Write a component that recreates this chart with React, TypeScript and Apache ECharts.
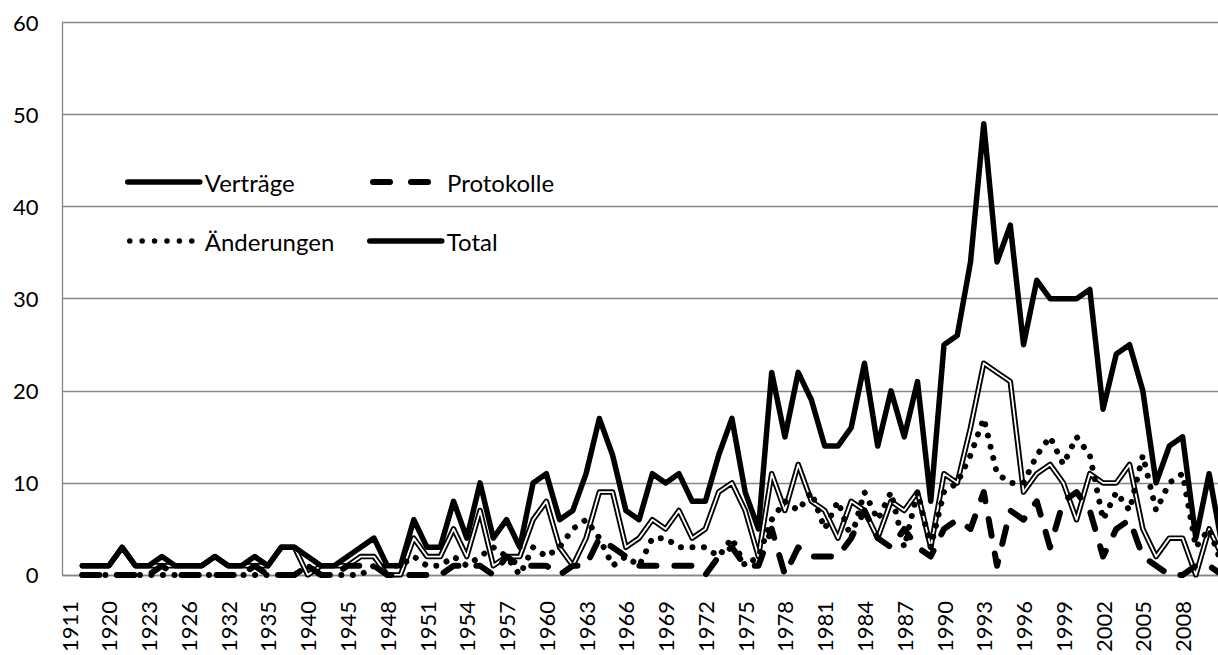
import React, { useEffect, useRef } from "react";
import * as echarts from "echarts";

// Category labels (every third one is displayed on the axis)
const years: string[] = [
  "1911", "1914", "1919", "1920", "1921", "1922", "1923", "1924", "1925", "1926",
  "1928", "1930", "1932", "1933", "1934", "1935", "1937", "1938", "1940", "1942",
  "1944", "1945", "1946", "1947", "1948", "1949", "1950", "1951", "1952", "1953",
  "1954", "1955", "1956", "1957", "1958", "1959", "1960", "1961", "1962", "1963",
  "1964", "1965", "1966", "1967", "1968", "1969", "1970", "1971", "1972", "1973",
  "1974", "1975", "1976", "1977", "1978", "1979", "1980", "1981", "1982", "1983",
  "1984", "1985", "1986", "1987", "1988", "1989", "1990", "1991", "1992", "1993",
  "1994", "1995", "1996", "1997", "1998", "1999", "2000", "2001", "2002", "2003",
  "2004", "2005", "2006", "2007", "2008", "2009", "2010", "2011",
];

const vertraege: (number | null)[] = [
  null, 1, 1, 1, 3, 1, 1, 1, 1, 1,
  1, 2, 1, 1, 1, 1, 3, 3, 0, 1,
  1, 1, 2, 2, 0, 0, 4, 2, 2, 5,
  2, 7, 1, 2, 2, 6, 8, 3, 1, 4,
  9, 9, 3, 4, 6, 5, 7, 4, 5, 9,
  10, 7, 2, 11, 7, 12, 8, 7, 4, 8,
  7, 4, 8, 7, 9, 3, 11, 10, 16, 23,
  22, 21, 9, 11, 12, 10, 6, 11, 10, 10,
  12, 5, 2, 4, 4, 0, 5, 2,
];

const protokolle: (number | null)[] = [
  null, 0, 0, 0, 0, 0, 0, 1, 0, 0,
  0, 0, 0, 0, 1, 0, 0, 0, 1, 0,
  0, 1, 1, 1, 0, 0, 0, 0, 0, 1,
  1, 1, 0, 2, 1, 1, 1, 0, 1, 1,
  4, 3, 2, 1, 1, 1, 1, 1, 0, 2,
  3, 1, 1, 5, 0, 3, 2, 2, 2, 4,
  7, 4, 3, 5, 3, 2, 5, 6, 5, 9,
  1, 7, 6, 8, 3, 8, 9, 7, 2, 5,
  6, 2, 1, 0, 0, 1, 1, 0,
];

const aenderungen: (number | null)[] = [
  null, 0, 0, 0, 0, 0, 0, 0, 0, 0,
  0, 0, 0, 0, 0, 0, 0, 0, 1, 0,
  0, 0, 0, 1, 1, 1, 2, 1, 1, 2,
  1, 2, 3, 2, 0, 3, 2, 3, 5, 6,
  4, 1, 2, 1, 4, 4, 3, 3, 3, 2,
  4, 1, 2, 6, 8, 7, 9, 5, 8, 4,
  9, 6, 9, 3, 9, 3, 9, 10, 13, 17,
  11, 10, 10, 13, 15, 12, 15, 13, 6, 9,
  7, 13, 7, 10, 11, 3, 5, 1,
];

const total: (number | null)[] = [
  null, 1, 1, 1, 3, 1, 1, 2, 1, 1,
  1, 2, 1, 1, 2, 1, 3, 3, 2, 1,
  1, 2, 3, 4, 1, 1, 6, 3, 3, 8,
  4, 10, 4, 6, 3, 10, 11, 6, 7, 11,
  17, 13, 7, 6, 11, 10, 11, 8, 8, 13,
  17, 9, 5, 22, 15, 22, 19, 14, 14, 16,
  23, 14, 20, 15, 21, 8, 25, 26, 34, 49,
  34, 38, 25, 32, 30, 30, 30, 31, 18, 24,
  25, 20, 10, 14, 15, 4, 11, 3,
];

const yTicks = { min: 0, max: 60, interval: 10 };
const lastShownLabel = "2008";

export default function App() {
  const ref = useRef<HTMLDivElement>(null);

  useEffect(() => {
    if (!ref.current) return;
    const chart = echarts.init(ref.current, null, { renderer: "svg" });
    const font = 'Lato, "Noto Sans", sans-serif';
    const gray = "#868686";
    const lastIdx = years.indexOf(lastShownLabel);
    const legendBase = {
      orient: "horizontal",
      itemWidth: 72,
      itemHeight: 20,
      padding: 0,
      selectedMode: false,
      itemStyle: { opacity: 0 },
      textStyle: { fontFamily: font, fontSize: 24, color: "#000" },
    };
    chart.setOption({
      animation: false,
      backgroundColor: "#fff",
      grid: { left: 62.5, right: 0, top: 22.5, bottom: 77, containLabel: false },
      legend: [
        {
          ...legendBase, left: 125, top: 170, data: ["Verträge"],
          lineStyle: { color: "#000", width: 5.5, cap: "round" },
        },
        {
          ...legendBase, left: 367, top: 170, data: ["Protokolle"],
          lineStyle: { color: "#000", width: 6, type: [17, 21], dashOffset: -3, cap: "round" },
        },
        {
          ...legendBase, left: 125, top: 229, data: ["Änderungen"],
          lineStyle: { color: "#000", width: 5.5, type: [0.01, 12.4], dashOffset: -2.5, cap: "round" },
        },
        {
          ...legendBase, left: 367, top: 229, data: ["Total"],
          lineStyle: { color: "#000", width: 5.5, cap: "round" },
        },
      ],
      xAxis: {
        type: "category",
        data: years,
        boundaryGap: true,
        axisLine: { lineStyle: { color: gray, width: 1.3 } },
        axisTick: { show: false },
        axisLabel: {
          interval: (idx: number) => idx % 3 === 0 && idx <= lastIdx,
          rotate: 90,
          margin: 26,
          fontFamily: font,
          fontSize: 22,
          color: "#000",
        },
      },
      yAxis: {
        type: "value",
        min: yTicks.min,
        max: yTicks.max,
        interval: yTicks.interval,
        axisLine: { show: true, lineStyle: { color: gray, width: 1.3 } },
        axisTick: { show: false },
        splitLine: { lineStyle: { color: gray, width: 1.3 } },
        axisLabel: { margin: 24, fontFamily: font, fontSize: 22, color: "#000" },
      },
      series: [
        {
          name: "Verträge",
          type: "line",
          data: vertraege,
          symbol: "none",
          itemStyle: { color: "#000" },
          lineStyle: { color: "#000", width: 5.5, join: "round", cap: "round" },
          z: 2,
        },
        {
          name: "Verträge",
          id: "vertraege-inner",
          type: "line",
          data: vertraege,
          symbol: "none",
          silent: true,
          itemStyle: { color: "#fff" },
          lineStyle: { color: "#fff", width: 1.8, join: "round" },
          z: 2,
        },
        {
          name: "Protokolle",
          type: "line",
          data: protokolle,
          symbol: "none",
          itemStyle: { color: "#000" },
          lineStyle: { color: "#000", width: 6, type: [17, 18], cap: "round", join: "round" },
          z: 3,
        },
        {
          name: "Änderungen",
          type: "line",
          data: aenderungen,
          symbol: "none",
          itemStyle: { color: "#000" },
          lineStyle: { color: "#000", width: 6, type: [0.01, 11.5], cap: "round", join: "round" },
          z: 3,
        },
        {
          name: "Total",
          type: "line",
          data: total,
          symbol: "none",
          itemStyle: { color: "#000" },
          lineStyle: { color: "#000", width: 5.5, join: "round", cap: "round" },
          z: 4,
        },
      ],
    });
    return () => chart.dispose();
  }, []);

  return (
    <div
      ref={ref}
      style={{ position: "fixed", left: 0, top: 0, width: 1229, height: 655 }}
    />
  );
}
